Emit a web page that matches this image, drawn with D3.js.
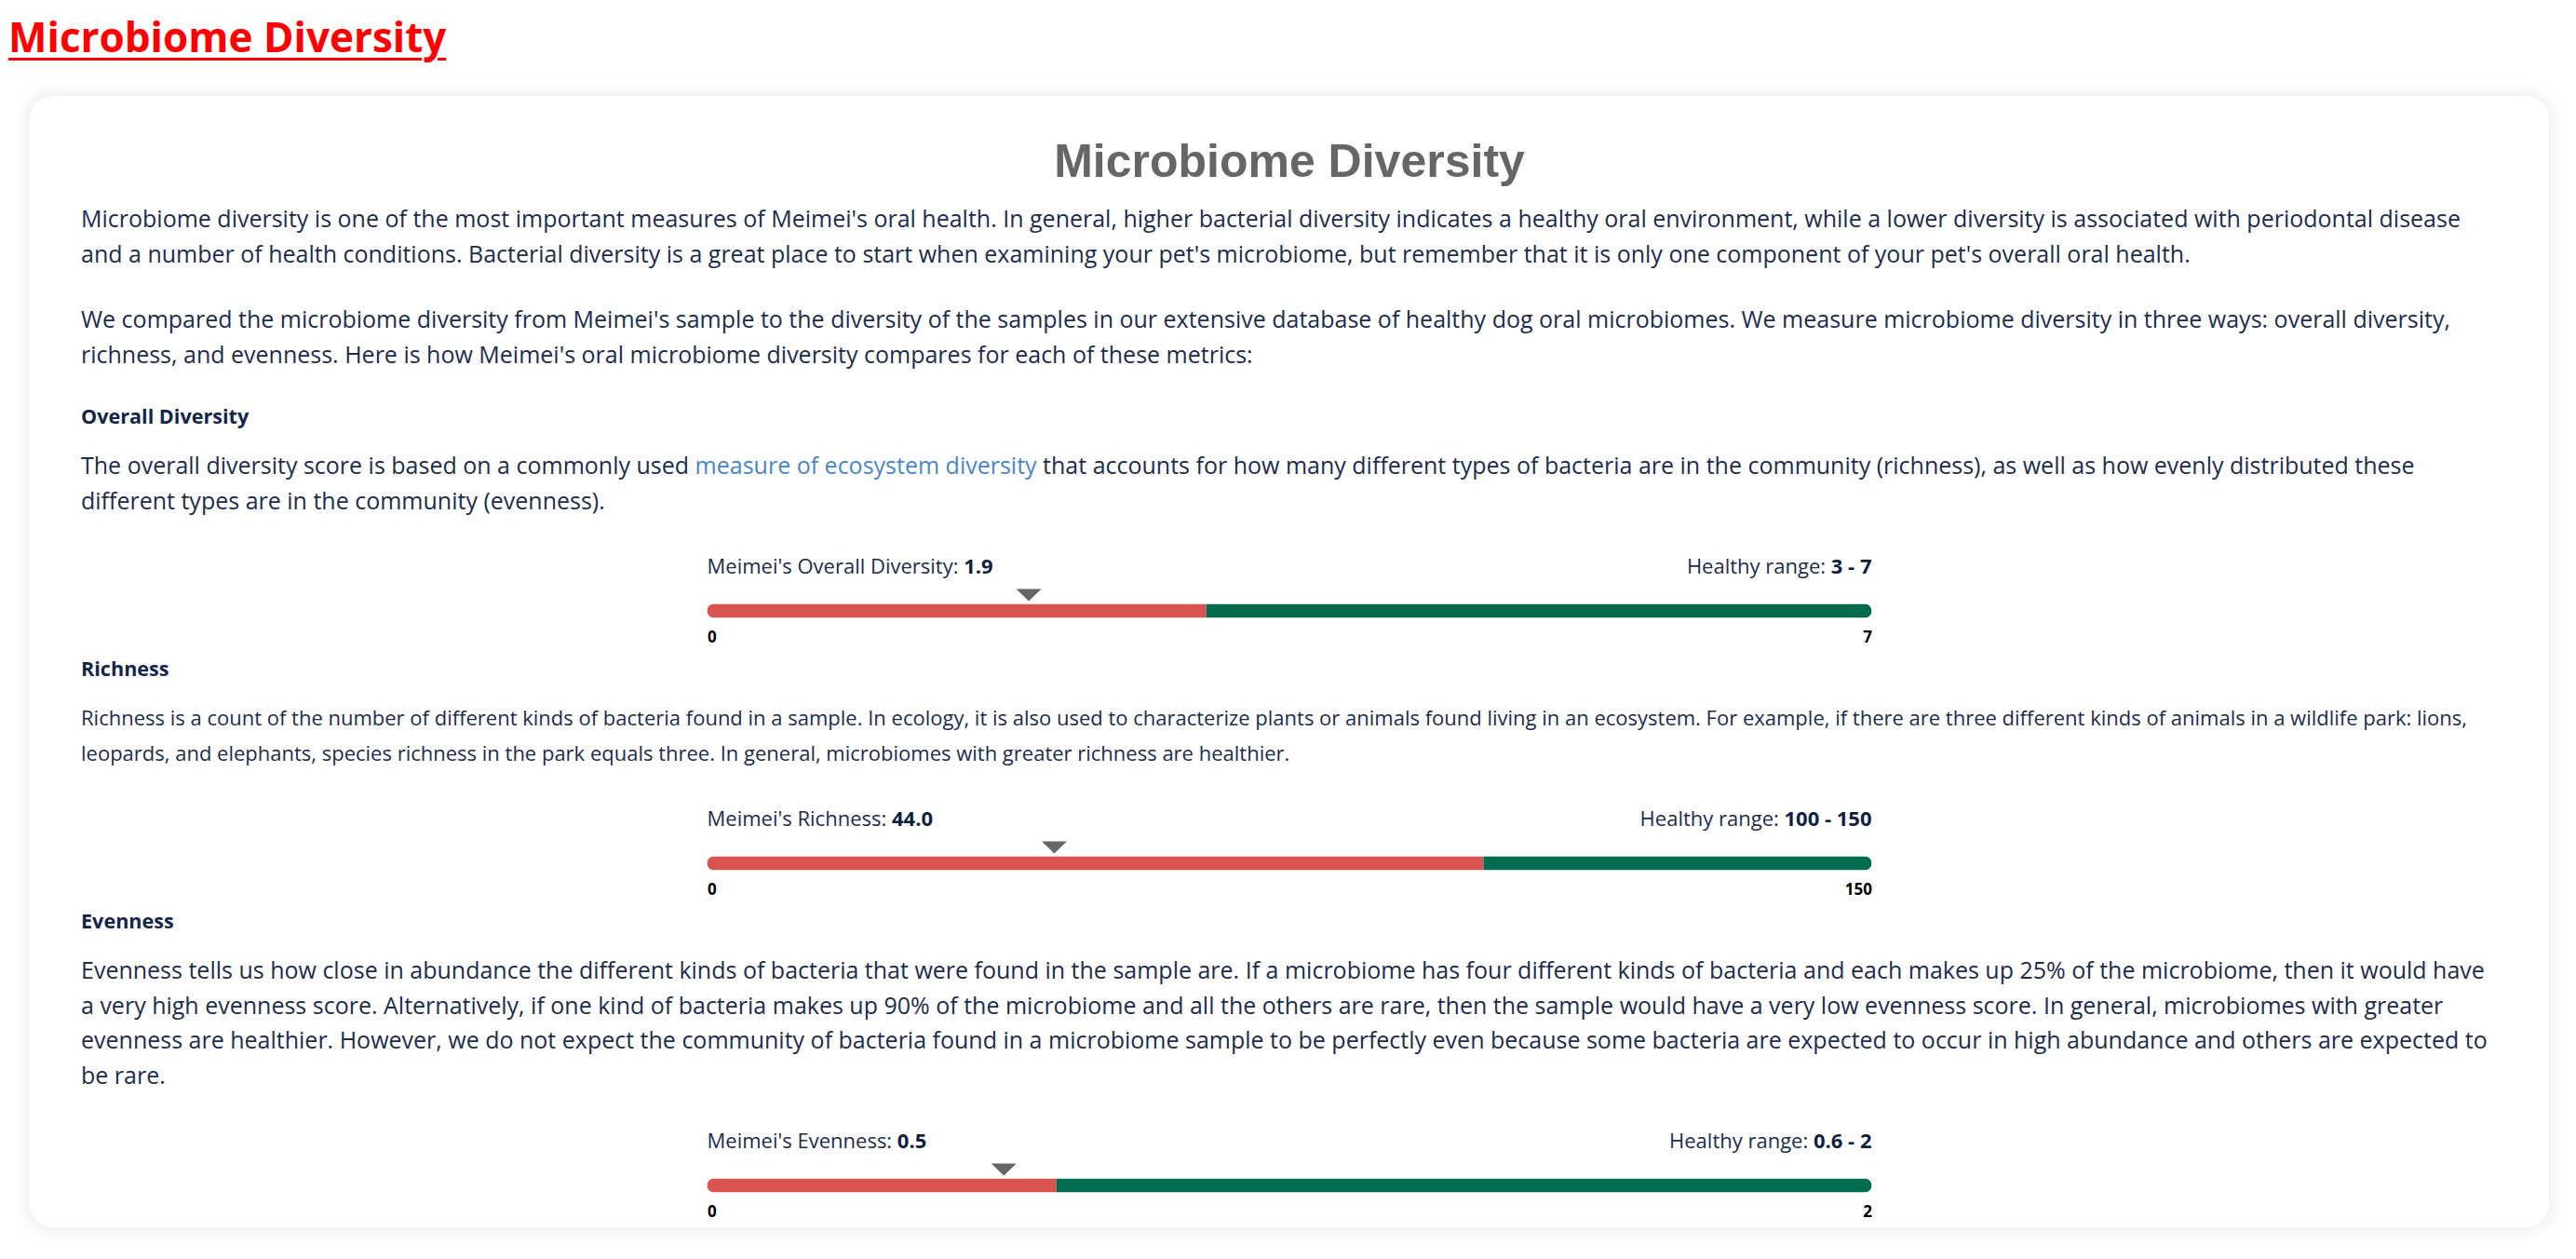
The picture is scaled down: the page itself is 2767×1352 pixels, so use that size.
<!DOCTYPE html>
<html>
<head>
<meta charset="utf-8">
<script src="https://cdn.jsdelivr.net/npm/d3@7"></script>
<style>
  html, body { margin: 0; padding: 0; background: #fff; overflow: hidden; }
  body { width: 2767px; height: 1352px; position: relative; font-family: "Open Sans", sans-serif; color: #1d2c4c; }
  .page-title {
    position: absolute; left: 9px; top: 17px; margin: 0;
    font: 700 44px/44px "Open Sans", sans-serif; color: #f00;
    text-decoration: underline; text-decoration-thickness: 3px; text-underline-offset: 6px;
  }
  .card {
    position: absolute; left: 32px; top: 103px; width: 2596px; height: 1175px;
    padding: 40px 55px 0 55px; background: #fff; border-radius: 25px;
    box-shadow: 0 0 16px 5px rgba(0,0,0,0.065);
  }
  .card h2 { margin: 0 0 13px; text-align: center; font: 700 50px/60px "Liberation Sans", Arial, sans-serif; color: #666; }
  .card p { margin: 0 0 33px; font-size: 25px; line-height: 37.5px; }
  .card p.small { font-size: 22px; }
  .card h4 { margin: 4px 0 19px; font: 700 21.6px/30px "Open Sans", sans-serif; color: #14254a; }
  .card a { color: #4a86c3; text-decoration: none; }
  .gauge { display: block; }
</style>
</head>
<body>
<div class="page-title">Microbiome Diversity</div>
<div class="card" id="card"></div>
<script>
// intro text
const cardTitle = "Microbiome Diversity";
const introParagraphs = [
  "Microbiome diversity is one of the most important measures of Meimei's oral health. In general, higher bacterial diversity indicates a healthy oral environment, while a lower diversity is associated with periodontal disease and a number of health conditions. Bacterial diversity is a great place to start when examining your pet's microbiome, but remember that it is only one component of your pet's overall oral health.",
  "We compared the microbiome diversity from Meimei's sample to the diversity of the samples in our extensive database of healthy dog oral microbiomes. We measure microbiome diversity in three ways: overall diversity, richness, and evenness. Here is how Meimei's oral microbiome diversity compares for each of these metrics:"
];

// one entry per metric
const metrics = ["Overall Diversity", "Richness", "Evenness"];
const descriptions = [
  "The overall diversity score is based on a commonly used <a href=\"#\">measure of ecosystem diversity</a> that accounts for how many different types of bacteria are in the community (richness), as well as how evenly distributed these different types are in the community (evenness).",
  "Richness is a count of the number of different kinds of bacteria found in a sample. In ecology, it is also used to characterize plants or animals found living in an ecosystem. For example, if there are three different kinds of animals in a wildlife park: lions, leopards, and elephants, species richness in the park equals three. In general, microbiomes with greater richness are healthier.",
  "Evenness tells us how close in abundance the different kinds of bacteria that were found in the sample are. If a microbiome has four different kinds of bacteria and each makes up 25% of the microbiome, then it would have a very high evenness score. Alternatively, if one kind of bacteria makes up 90% of the microbiome and all the others are rare, then the sample would have a very low evenness score. In general, microbiomes with greater evenness are healthier. However, we do not expect the community of bacteria found in a microbiome sample to be perfectly even because some bacteria are expected to occur in high abundance and others are expected to be rare."
];
const smallText = [false, true, false];
const petValues = [1.9, 44.0, 0.5];
const valueLabels = ["1.9", "44.0", "0.5"];
const healthyLow = [3, 100, 0.6];
const healthyHigh = [7, 150, 2];
const scaleMax = [7, 150, 2];
const rangeLabels = ["3 - 7", "100 - 150", "0.6 - 2"];

const red = "#d9534f", green = "#006b4f", markerColor = "#666";

const svgW = 2596, svgH = 110,
      barW = 1251, barH = 15,
      barLeft = (svgW - barW) / 2,
      labelY = 26.5, barY = 67, tickY = 100.5,
      markerShift = 6; // marker sits a little right of the value, like the original

let card = d3.select("#card");
card.append("h2").text(cardTitle);
introParagraphs.forEach(function(t){ card.append("p").text(t); });

metrics.forEach(function(name, i){
  card.append("h4").text(name);
  card.append("p").classed("small", smallText[i]).html(descriptions[i]);
  drawGauge(i);
});

function drawGauge(i){
  let svg = card.append("svg")
    .attr("class", "gauge")
    .attr("width", svgW)
    .attr("height", svgH);

  let x = d3.scaleLinear()
    .domain([0, scaleMax[i]])
    .range([barLeft, barLeft + barW]);

  // labels above bar
  let left = svg.append("text")
    .attr("x", x(0)).attr("y", labelY)
    .attr("font-size", 22).attr("fill", "#1d2c4c");
  left.append("tspan").text("Meimei's " + metrics[i] + ": ");
  left.append("tspan").attr("font-weight", 700).attr("fill", "#0f1f40").text(valueLabels[i]);

  let right = svg.append("text")
    .attr("x", x(scaleMax[i])).attr("y", labelY)
    .attr("text-anchor", "end")
    .attr("font-size", 22).attr("fill", "#1d2c4c");
  right.append("tspan").text("Healthy range: ");
  right.append("tspan").attr("font-weight", 700).attr("fill", "#0f1f40").text(rangeLabels[i]);

  // rounded bar
  let clipId = "clip" + i;
  svg.append("clipPath").attr("id", clipId)
    .append("rect")
    .attr("x", x(0)).attr("y", barY - barH / 2)
    .attr("width", x(scaleMax[i]) - x(0)).attr("height", barH)
    .attr("rx", barH / 2);

  let segs = [
    {from: 0, to: healthyLow[i], color: red},
    {from: healthyLow[i], to: healthyHigh[i], color: green}
  ];
  svg.append("g").attr("clip-path", "url(#" + clipId + ")")
    .selectAll("rect")
    .data(segs)
    .enter()
    .append("rect")
    .attr("x", function(d){ return x(d.from); })
    .attr("y", barY - barH / 2)
    .attr("width", function(d){ return x(d.to) - x(d.from); })
    .attr("height", barH)
    .attr("fill", function(d){ return d.color; });

  // marker triangle
  let tx = x(petValues[i]) + markerShift, ty = barY - barH / 2 - 3;
  svg.append("path")
    .attr("d", "M" + (tx - 13.5) + "," + (ty - 13) + "L" + (tx + 13.5) + "," + (ty - 13) + "L" + tx + "," + ty + "Z")
    .attr("fill", markerColor);

  // end ticks
  let axis = d3.axisBottom(x)
    .tickValues([0, scaleMax[i]])
    .tickSize(0)
    .tickPadding(0)
    .tickFormat(d3.format("d"));
  let g = svg.append("g").attr("transform", "translate(0," + tickY + ")").call(axis);
  g.select(".domain").remove();
  g.selectAll("text")
    .attr("font-family", "Open Sans, sans-serif")
    .attr("font-size", 17)
    .attr("font-weight", 700)
    .attr("fill", "#000")
    .attr("dy", "0")
    .attr("text-anchor", function(d, j){ return j === 0 ? "start" : "end"; });
}
</script>
</body>
</html>
